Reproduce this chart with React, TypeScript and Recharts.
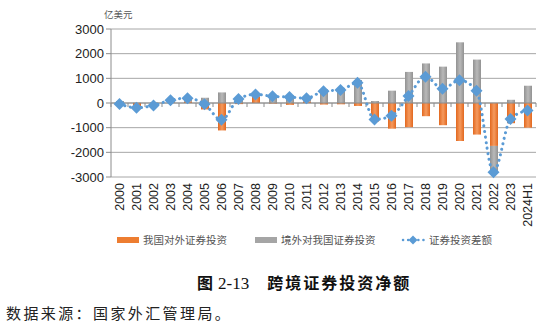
import {
  Bar,
  CartesianGrid,
  ComposedChart,
  Line,
  ReferenceLine,
  XAxis,
  YAxis,
} from 'recharts'

// 单位：亿美元
const years = [
  '2000', '2001', '2002', '2003', '2004', '2005', '2006', '2007', '2008', '2009',
  '2010', '2011', '2012', '2013', '2014', '2015', '2016', '2017', '2018', '2019',
  '2020', '2021', '2022', '2023', '2024H1',
]
const outward = [
  -113, -207, -121, 30, 65, -262, -1113, -45, 252, -25,
  -76, 62, -64, -54, -120, -750, -1040, -980, -535, -900,
  -1540, -1280, -1740, -820, -1000,
]
const inward = [
  78, 12, 18, 84, 132, 213, 429, 210, 97, 296,
  317, 134, 540, 583, 930, 80, 500, 1260, 1604, 1474,
  2460, 1760, -1070, 130, 700,
]
const netFlow = [
  -40, -194, -103, 114, 197, -47, -684, 164, 349, 271,
  240, 196, 478, 529, 820, -665, -520, 280, 1069, 579,
  920, 500, -2811, -650, -300,
]
const yTicks = [-3000, -2000, -1000, 0, 1000, 2000, 3000]

const data = years.map((year, i) => ({
  year,
  outward: outward[i],
  inward: inward[i],
  net: netFlow[i],
}))

const ORANGE = '#ed7d31'
const GREY = '#a5a5a5'
const BLUE = '#5b9bd5'
const CJK = '"Noto Sans CJK SC", sans-serif'

function XTick(props: any) {
  const { x, y, payload } = props
  return (
    <g transform={`translate(${x},${y})`}>
      <text
        transform="rotate(-90)"
        x={0}
        y={0}
        dy="0.36em"
        textAnchor="end"
        fontSize={12.5}
        fontFamily='"Liberation Sans", Arial, sans-serif'
        fill="#222"
      >
        {payload.value}
      </text>
    </g>
  )
}

function Diamond(props: any) {
  const { cx, cy } = props
  if (cx == null || cy == null) return null
  const r = 6
  return (
    <polygon
      points={`${cx},${cy - r} ${cx + r},${cy} ${cx},${cy + r} ${cx - r},${cy}`}
      fill={BLUE}
    />
  )
}

// zero line with small category ticks, like the Excel original
function ZeroLine(props: any) {
  const { x1, x2, y1 } = props
  if (x1 == null || x2 == null || y1 == null) return null
  const n = years.length
  const step = (x2 - x1) / n
  return (
    <g>
      <line x1={x1} x2={x2} y1={y1} y2={y1} stroke="#8c8c8c" strokeWidth={1} />
      {Array.from({ length: n + 1 }, (_, i) => (
        <line
          key={i}
          x1={x1 + i * step}
          x2={x1 + i * step}
          y1={y1}
          y2={y1 + 4}
          stroke="#8c8c8c"
        />
      ))}
    </g>
  )
}

function LegendRow() {
  const text = { fontFamily: CJK, fontSize: 10.5, color: '#555', whiteSpace: 'nowrap' as const }
  return (
    <>
      <div style={{ position: 'absolute', left: 117, top: 237, width: 22, height: 6, background: ORANGE }} />
      <div style={{ position: 'absolute', left: 143, top: 232, ...text }}>我国对外证券投资</div>
      <div style={{ position: 'absolute', left: 255, top: 237, width: 22, height: 6, background: GREY }} />
      <div style={{ position: 'absolute', left: 281, top: 232, ...text }}>境外对我国证券投资</div>
      <svg style={{ position: 'absolute', left: 400, top: 234 }} width={26} height={12}>
        <line x1={3} x2={24} y1={6} y2={6} stroke={BLUE} strokeWidth={2.5} strokeDasharray="0.1 5" strokeLinecap="round" />
        <polygon points="13,1.5 17.5,6 13,10.5 8.5,6" fill={BLUE} />
      </svg>
      <div style={{ position: 'absolute', left: 429, top: 232, ...text }}>证券投资差额</div>
    </>
  )
}

export default function App() {
  return (
    <div style={{ position: 'fixed', left: 0, top: 0, width: 560, height: 331, background: '#fff', overflow: 'hidden' }}>
      <div style={{ position: 'absolute', left: 104, top: 7, fontFamily: CJK, fontSize: 9.5, color: '#555' }}>
        亿美元
      </div>
      <div style={{ position: 'absolute', left: 0, top: 0 }}>
        <ComposedChart
          width={560}
          height={260}
          data={data}
          stackOffset="sign"
          margin={{ top: 29, right: 24, bottom: 33, left: 0 }}
        >
          <defs>
            <linearGradient id="gOrange" x1="0" y1="0" x2="1" y2="0">
              <stop offset="0%" stopColor="#e2681f" />
              <stop offset="50%" stopColor="#f59a5e" />
              <stop offset="100%" stopColor="#e2681f" />
            </linearGradient>
            <linearGradient id="gGrey" x1="0" y1="0" x2="1" y2="0">
              <stop offset="0%" stopColor="#929292" />
              <stop offset="50%" stopColor="#b9b9b9" />
              <stop offset="100%" stopColor="#929292" />
            </linearGradient>
          </defs>
          <CartesianGrid vertical={false} stroke="#a6a6a6" />
          <XAxis
            dataKey="year"
            interval={0}
            axisLine={false}
            tickLine={false}
            tickSize={0}
            tickMargin={6}
            height={50}
            tick={<XTick />}
          />
          <YAxis
            width={111}
            domain={[-3000, 3000]}
            ticks={yTicks}
            interval={0}
            tickSize={5}
            axisLine={{ stroke: '#8c8c8c' }}
            tickLine={{ stroke: '#8c8c8c' }}
            tick={{ fill: '#222', fontSize: 13, fontFamily: '"Liberation Sans", Arial, sans-serif' }}
          />
          <Bar dataKey="outward" stackId="s" barSize={8} fill="url(#gOrange)" isAnimationActive={false} />
          <Bar dataKey="inward" stackId="s" barSize={8} fill="url(#gGrey)" isAnimationActive={false} />
          <ReferenceLine y={0} shape={<ZeroLine />} />
          <Line
            dataKey="net"
            type="monotone"
            stroke={BLUE}
            strokeWidth={3}
            strokeDasharray="0.1 5.5"
            strokeLinecap="round"
            dot={<Diamond />}
            activeDot={false}
            isAnimationActive={false}
          />
        </ComposedChart>
      </div>
      <LegendRow />
      <div
        style={{
          position: 'absolute',
          left: 197,
          top: 270,
          fontSize: 16,
          fontWeight: 600,
          fontFamily: '"Liberation Serif", "Noto Sans CJK SC", serif',
          whiteSpace: 'pre',
          color: '#111',
        }}
      >
        图<span style={{ marginLeft: 5, fontWeight: 400, fontSize: 17 }}>2-13</span>
        <span style={{ marginLeft: 18, letterSpacing: 2 }}>跨境证券投资净额</span>
      </div>
      <div
        style={{
          position: 'absolute',
          left: 6,
          top: 302,
          fontSize: 15,
          letterSpacing: 2.4,
          fontFamily: CJK,
          color: '#222',
          whiteSpace: 'nowrap',
        }}
      >
        数据来源：国家外汇管理局。
      </div>
    </div>
  )
}
